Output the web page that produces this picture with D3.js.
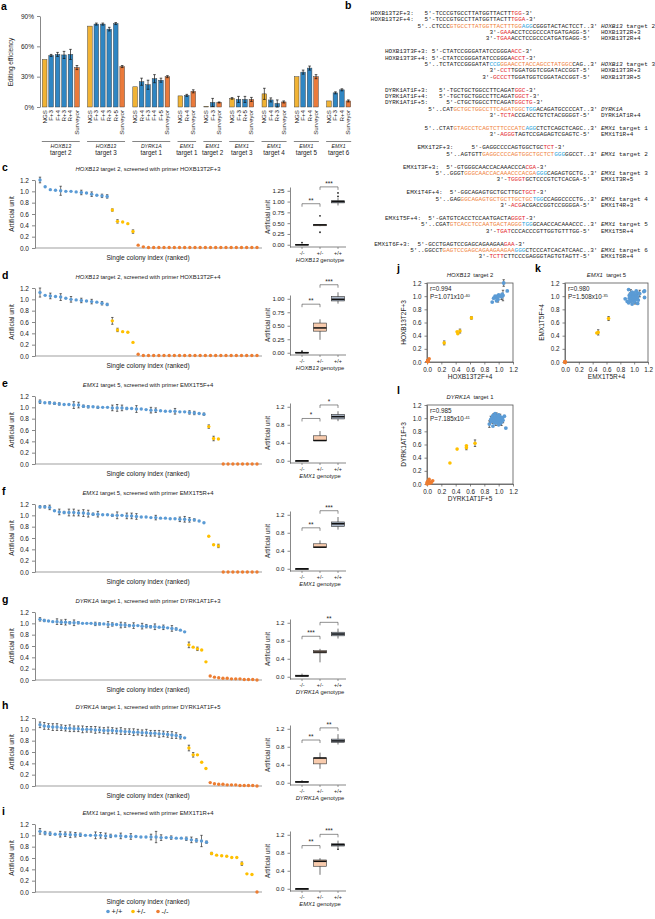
<!DOCTYPE html>
<html><head><meta charset="utf-8">
<script src="https://cdn.jsdelivr.net/npm/d3@7/dist/d3.min.js"></script>
<style>
html,body{margin:0;padding:0;background:#fff;}
svg{display:block;}
text{font-family:"Liberation Sans",Arial,sans-serif;fill:#222;}
.mono{font-family:"Liberation Mono","DejaVu Sans Mono",monospace;}
.letter{font-weight:bold;font-size:10.5px;fill:#000;}
</style></head><body>
<svg id="fig" width="655" height="919"></svg>
<script>
// ================= DATA =================
// ---- panel a ----
const barGroupGenes = ["HOXB13","HOXB13","DYRK1A","EMX1","EMX1","EMX1","EMX1","EMX1","EMX1"];
const barGroupTargets = ["target 2","target 3","target 1","target 1","target 2","target 3","target 4","target 5","target 6"];
const barLabels = [
 ["NGS","F+3","F+4","R+3","R+4","Surveyor"],
 ["NGS","F+3","F+4","R+3","R+5","Surveyor"],
 ["NGS","R+4","F+3","F+4","F+5","Surveyor"],
 ["NGS","R+4","Surveyor"],
 ["NGS","F+3","Surveyor"],
 ["NGS","F+3","R+5","Surveyor"],
 ["NGS","F+4","R+3","Surveyor"],
 ["NGS","F+4","R+4","Surveyor"],
 ["NGS","F+3","R+4","Surveyor"]];
const barValues = [
 [47,51,52,51.5,52,39],
 [80,82,82,77,82.5,40],
 [20,25,22,28,26.5,30],
 [11,11.5,15.5],
 [0.6,4.5,4.5],
 [8.5,7.5,7.5,7.5],
 [13,7,3.5,5],
 [30,34.5,38.5,30],
 [6,14,17,6]];
const barErrors = [
 [0,1,2,3.5,5,2],
 [0,1,1,1.8,1,1],
 [0,3.5,4.5,4,2,1],
 [0,1,1.5],
 [0,4,0.5],
 [0.8,3,3,2],
 [5.5,2,3.5,1],
 [0,2,2,2],
 [0,1,1,1]];
const barTicks = [0,30,60,90];

// ---- panel b (sequence alignments; [r:..]=red primer end, [o:..]=protospacer, [b:..]=PAM) ----
const seqHOXB13T2 = [
 {label:"HOXB13T2F+3:", labelCol:-13, col:2, seq:"5'-TCCCGTGCCTTATGGTTACTT[r:TGG]-3'"},
 {label:"HOXB13T2F+4:", labelCol:-13, col:2, seq:"5'-TCCCGTGCCTTATGGTTACTT[r:TGGA]-3'"},
 {target:true, col:0, seq:"5'..CTCCC[o:GTGCCTTATGGTTACTTTGG][b:AGG]CGGGTACTACTCCT..3'", gene:"HOXB13", right:" target 2"},
 {col:20, seq:"3'-[r:GAA]ACCTCCGCCCATGATGAGG-5'", right:"HOXB13T2R+3"},
 {col:19, seq:"3'-[r:TGAA]ACCTCCGCCCATGATGAGG-5'", right:"HOXB13T2R+4"}];
const seqHOXB13T3 = [
 {label:"HOXB13T3F+3:", labelCol:-11, col:2, seq:"5'-CTATCCGGGATATCCGGGA[r:ACC]-3'"},
 {label:"HOXB13T3F+4:", labelCol:-11, col:2, seq:"5'-CTATCCGGGATATCCGGGA[r:ACCT]-3'"},
 {target:true, col:0, seq:"5'..TCTATCCGGGATAT[b:CCG][o:GGAACCTACCAGCCTATGGC]CAG..3'", gene:"HOXB13", right:" target 3"},
 {col:18, seq:"3'-[r:CCT]TGGATGGTCGGATACCGGT-5'", right:"HOXB13T3R+3"},
 {col:16, seq:"3'-[r:GCCCT]TGGATGGTCGGATACCGGT-5'", right:"HOXB13T3R+5"}];
const seqDYRK1AT1 = [
 {label:"DYRK1AT1F+3:", labelCol:-12, col:3, seq:"5'-TGCTGCTGGCCTTCAGAT[r:GGC]-3'"},
 {label:"DYRK1AT1F+4:", labelCol:-12, col:3, seq:"5'-TGCTGCTGGCCTTCAGAT[r:GGCT]-3'"},
 {label:"DYRK1AT1F+5:", labelCol:-12, col:5, seq:"5'-CTGCTGGCCTTCAGAT[r:GGCTG]-3'"},
 {target:true, col:0, seq:"5'..CAT[o:GCTGCTGGCCTTCAGATGGC][b:TGG]ACAGATGCCCCAT..3'", gene:"DYRK1A", right:""},
 {col:17, seq:"3'-[r:TCTA]CCGACCTGTCTACGGGGT-5'", right:"DYRK1AT1R+4"}];
const seqEMX1T1 = [
 {target:true, col:0, seq:"5'..CTAT[o:GTAGCCTCAGTCTTCCCATC][b:AGG]CTCTCAGCTCAGC..3'", gene:"EMX1", right:" target 1"},
 {col:18, seq:"3'-[r:AGGG]TAGTCCGAGAGTCGAGTC-5'", right:"EMX1T1R+4"}];
const seqEMX1T2 = [
 {label:"EMX1T2F+3:", labelCol:-8, col:7, seq:"5'-GAGGCCCCAGTGGCTGC[r:TCT]-3'"},
 {target:true, col:0, seq:"5'..AGTGTT[o:GAGGCCCCAGTGGCTGCTCT][b:GGG]GGCCT..3'", gene:"EMX1", right:" target 2"}];
const seqEMX1T3 = [
 {label:"EMX1T3F+3:", labelCol:-9, col:3, seq:"5'-GTGGGCAACCACAAACCCA[r:CGA]-3'"},
 {target:true, col:0, seq:"5'..GGGT[o:GGGCAACCACAAACCCACGA][b:GGG]CAGAGTGCTG..3'", gene:"EMX1", right:" target 3"},
 {col:17, seq:"3'-[r:TGGGT]GCTCCCGTCTCACGA-5'", right:"EMX1T3R+5"}];
const seqEMX1T4 = [
 {label:"EMX1T4F+4:", labelCol:-8, col:4, seq:"5'-GGCAGAGTGCTGCTTGC[r:TGCT]-3'"},
 {target:true, col:0, seq:"5'..GAG[o:GGCAGAGTGCTGCTTGCTGC][b:TGG]CCAGGCCCCTG..3'", gene:"EMX1", right:" target 4"},
 {col:18, seq:"3'-[r:ACG]ACGACCGGTCCGGGGA-5'", right:"EMX1T4R+3"}];
const seqEMX1T5 = [
 {label:"EMX1T5F+4:", labelCol:-10, col:2, seq:"5'-GATGTCACCTCCAATGACTA[r:GGGT]-3'"},
 {target:true, col:0, seq:"5'..CGAT[o:GTCACCTCCAATGACTAGGG][b:TGG]GCAACCACAAACCC..3'", gene:"EMX1", right:" target 5"},
 {col:18, seq:"3'-[r:TGAT]CCCACCCGTTGGTGTTTGG-5'", right:"EMX1T5R+4"}];
const seqEMX1T6 = [
 {label:"EMX1T6F+3:", labelCol:-10, col:2, seq:"5'-GCCTGAGTCCGAGCAGAAGAA[r:GAA]-3'"},
 {target:true, col:0, seq:"5'..GGCCT[o:GAGTCCGAGCAGAAGAAGAA][b:GGG]CTCCCATCACATCAAC..3'", gene:"EMX1", right:" target 6"},
 {col:19, seq:"3'-[r:TCTT]CTTCCCGAGGGTAGTGTAGTT-5'", right:"EMX1T6R+4"}];

// ---- panels c-i: ranked single-colony values ----
const c_wt = [1.20,1.08,1.03,1.02,1.01,1.00,1.00,0.99,0.98,0.97,0.95,0.93,0.92,0.91];
const c_wtErr = [0.05,0.01,0.01,0.01,0.08,0.01,0.01,0.01,0.04,0.01,0.04,0.01,0.03,0.03];
const c_het = [0.67,0.47,0.46,0.43,0.29];
const c_hetErr = [0.02,0.03,0.01,0.01,0.03];
const c_ko = [0.05,0.02,0.01,0.01,0.01,0.01,0.01,0.01,0.01,0.01,0.01,0.01,0.01,0.01,0.01,0.01,0.01,0.01,0.01,0.01,0.01,0.01,0.01,0.01];

const d_wt = [1.12,1.07,1.06,1.05,1.04,1.02,1.00,0.99,0.98,0.97,0.96,0.95,0.93,0.91];
const d_wtErr = [0.08,0.01,0.05,0.01,0.06,0.01,0.05,0.01,0.04,0.01,0.04,0.01,0.03,0.02];
const d_het = [0.62,0.46,0.43,0.42,0.24];
const d_hetErr = [0.06,0.03,0.01,0.01,0.01];
const d_ko = [0.03,0.01,0.01,0.01,0.01,0.01,0.01,0.01,0.01,0.01,0.01,0.01,0.01,0.01,0.01,0.01,0.01,0.01,0.01,0.01,0.01,0.01,0.01,0.01];

const e_wt = [1.10,1.08,1.08,1.07,1.06,1.05,1.05,1.04,1.04,1.02,1.01,1.01,1.00,1.00,1.00,0.99,0.99,0.99,0.98,0.98,0.97,0.97,0.96,0.95,0.95,0.94,0.93,0.93,0.93,0.92,0.92,0.91,0.90,0.89,0.88];
const e_wtErr = [0.03,0.01,0.02,0.02,0.02,0.01,0.01,0.06,0.05,0.02,0.02,0.01,0.02,0.01,0.01,0.05,0.06,0.05,0.02,0.01,0.06,0.01,0.01,0.05,0.04,0.01,0.01,0.01,0.05,0.01,0.01,0.03,0.03,0.01,0.02];
const e_het = [0.66,0.45,0.44];
const e_hetErr = [0.03,0.04,0.01];
const e_ko = [0,0,0,0,0,0,0,0];

const f_wt = [1.15,1.15,1.14,1.08,1.06,1.05,1.05,1.05,1.04,1.04,1.03,1.02,1.02,1.01,1.01,1.00,1.00,1.00,0.99,0.99,0.98,0.97,0.97,0.96,0.96,0.95,0.95,0.94,0.94,0.93,0.93,0.92,0.92,0.90,0.87];
const f_wtErr = [0.02,0.02,0.04,0.01,0.05,0.02,0.06,0.06,0.05,0.06,0.06,0.02,0.05,0.01,0.01,0.02,0.06,0.01,0.05,0.05,0.05,0.01,0.01,0.01,0.04,0.01,0.01,0.01,0.01,0.04,0.05,0.04,0.02,0.01,0.01];
const f_het = [0.63,0.48,0.46];
const f_hetErr = [0.01,0.01,0.03];
const f_ko = [0,0,0,0,0,0,0,0];

const g_wt = [1.07,1.05,1.04,1.03,1.03,1.02,1.02,1.01,1.01,1.01,1.00,1.00,1.00,0.99,0.99,0.99,0.98,0.98,0.98,0.97,0.97,0.96,0.96,0.96,0.95,0.95,0.94,0.94,0.93,0.93,0.92,0.91,0.90,0.88,0.85];
const g_wtErr = [0.03,0.02,0.01,0.01,0.05,0.04,0.05,0.02,0.05,0.02,0.01,0.01,0.01,0.03,0.02,0.01,0.05,0.03,0.01,0.05,0.04,0.02,0.05,0.01,0.05,0.03,0.02,0.05,0.01,0.04,0.01,0.05,0.02,0.01,0.01];
const g_het = [0.62,0.58,0.55,0.53,0.32];
const g_hetErr = [0.05,0.01,0.03,0.01,0.01];
const g_ko = [0.07,0.05,0.04,0.03,0.03,0.02,0.02,0.02,0.01,0.01,0.01,0.00];

const h_wt = [1.08,1.06,1.05,1.04,1.04,1.03,1.02,1.02,1.01,1.01,1.00,1.00,1.00,0.99,0.99,0.98,0.98,0.98,0.97,0.97,0.96,0.96,0.95,0.95,0.94,0.94,0.93,0.93,0.92,0.92,0.91,0.90,0.89,0.87,0.85];
const h_wtErr = [0.05,0.06,0.05,0.06,0.06,0.05,0.05,0.06,0.05,0.05,0.06,0.05,0.05,0.06,0.05,0.05,0.06,0.05,0.05,0.06,0.05,0.05,0.06,0.05,0.05,0.06,0.05,0.05,0.06,0.05,0.05,0.06,0.05,0.04,0.01];
const h_het = [0.67,0.55,0.55,0.42,0.31];
const h_hetErr = [0.05,0.04,0.01,0.01,0.01];
const h_ko = [0.06,0.04,0.03,0.03,0.02,0.02,0.02,0.01,0.01,0.01,0.01,0.00];

const i_wt = [1.07,1.04,1.03,1.02,1.02,1.02,1.01,1.01,1.01,1.00,1.00,1.00,1.00,0.99,0.99,0.99,0.99,0.98,0.98,0.98,0.97,0.97,0.97,0.97,0.96,0.96,0.96,0.95,0.95,0.94,0.92,0.91,0.90,0.88];
const i_wtErr = [0.05,0.03,0.03,0.01,0.05,0.04,0.05,0.04,0.03,0.01,0.01,0.06,0.05,0.05,0.03,0.01,0.05,0.01,0.05,0.01,0.01,0.01,0.05,0.10,0.05,0.01,0.03,0.01,0.01,0.03,0.05,0.03,0.10,0.02];
const i_het = [0.68,0.65,0.64,0.63,0.61,0.61,0.50,0.32,0.31];
const i_hetErr = [0.02,0.01,0.01,0.01,0.01,0.01,0.03,0.01,0.01];
const i_ko = [0.00];

const rowLetters = ["c","d","e","f","g","h","i"];
const rowGenes = ["HOXB13","HOXB13","EMX1","EMX1","DYRK1A","DYRK1A","EMX1"];
const rowTargets = ["target 2","target 2","target 5","target 5","target 1","target 1","target 1"];
const rowPrimers = ["HOXB13T2F+3","HOXB13T2F+4","EMX1T5F+4","EMX1T5R+4","DYRK1AT1F+3","DYRK1AT1F+5","EMX1T1R+4"];
const rowSig = [["**","***"],["**","***"],["*","*"],["**","***"],["***","**"],["**","**"],["**","***"]];
const boxTickSets = [[0,0.25,0.5,0.75,1,1.25],[0,0.25,0.5,0.75,1],[0,0.4,0.8,1.2],[0,0.4,0.8,1.2],[0,0.4,0.8,1.2],[0,0.4,0.8,1.2],[0,0.4,0.8,1.2]];
// box summaries [min, q1, median, q3, max] for -/-, +/-, +/+
const boxKO = [[0,0,0,0.01,0.02],[0,0,0,0.01,0.01],[0,0,0,0,0],[0,0,0,0,0],[0,0.01,0.02,0.035,0.07],[0,0.01,0.02,0.03,0.06],[0,0,0,0,0]];
const boxHet = [[0.43,0.44,0.46,0.47,0.47],[0.24,0.40,0.46,0.55,0.62],[0.44,0.445,0.45,0.555,0.66],[0.46,0.47,0.48,0.555,0.63],[0.32,0.53,0.55,0.58,0.62],[0.31,0.42,0.55,0.55,0.67],[0.31,0.50,0.61,0.64,0.68]];
const boxWT = [[0.91,0.97,1.00,1.02,1.08],[0.91,0.96,0.99,1.04,1.12],[0.88,0.93,0.98,1.03,1.10],[0.87,0.94,1.00,1.04,1.15],[0.85,0.91,0.95,0.99,1.07],[0.85,0.90,0.93,0.97,1.08],[0.90,0.95,0.98,1.00,1.07]];
const boxOutKO = [[0.05],[0.03],[],[],[],[],[]];
const boxOutHet = [[0.67,0.29],[],[],[],[],[],[]];
const boxOutWT = [[1.20,1.12],[],[],[],[],[],[0.88]];

// ---- panels j, k, l: primer pair correlation ----
const jx_wt = [1.12,1.07,1.06,1.05,1.04,1.02,1.00,0.99,0.98,0.97,0.96,0.95,0.93,0.91];
const jy_wt = [1.08,1.20,1.01,1.03,0.99,1.00,1.02,0.95,1.00,0.93,0.98,1.00,0.97,0.91];
const jy_wtErr = [0.01,0.05,0.08,0.01,0.04,0.01,0.01,0.04,0.01,0.03,0.01,0.01,0.03,0.03];
const jx_het = [0.62,0.46,0.43,0.42,0.24];
const jy_het = [0.67,0.47,0.43,0.46,0.29];
const jy_hetErr = [0.02,0.03,0.01,0.01,0.03];

const kx_wt = [0.92,1.15,1.03,1.14,0.97,1.05,1.00,0.95,1.08,0.99,1.02,0.93,1.04,0.96,1.01,1.05,0.94,1.00,1.15,0.98,0.93,1.04,0.87,1.02,0.96,1.06,0.95,0.99,1.01,0.90,0.94,1.00,0.92,1.05,0.97];
const kx_het = [0.63,0.48,0.46];

const lx_wt = [0.95,1.00,0.92,1.08,0.97,1.02,0.93,1.04,0.99,0.91,1.01,0.96,1.05,0.94,0.98,1.00,0.89,1.03,0.95,0.92,1.06,0.97,0.99,0.93,1.01,0.90,0.98,1.04,0.94,0.96,1.02,0.87,1.00,0.92,1.10];
const lx_het = [0.67,0.55,0.55,0.42,0.32];
const lx_ko = [0.03,0.08,0.01,0.05,0.02,0.06,0.00,0.04,0.02,0.01,0.03,0.00];

const corrR = ["0.994","0.980","0.985"];
const corrP = ["1.071","1.508","7.185"];
const corrExp = ["-40","-35","-41"];
const corrTicks = [0,0.2,0.4,0.6,0.8,1.0,1.2];
const genotypes = ["-/-","+/-","+/+"];

// ================= DRAWING =================
const BLUE="#5B9BD5", YELLOW="#FFC000", ORANGE="#ED7D31";
const BAR_NGS="#F1B335", BAR_BLUE="#2F86C3", BAR_SURV="#EA7A3B";
const svg = d3.select("#fig");
svg.append("rect").attr("width",655).attr("height",919).attr("fill","#fff");

function styleAxis(sel, fs){
  sel.attr("font-family",null).attr("font-size",null);
  sel.selectAll("text").style("font-size",fs+"px").attr("fill","#222");
  sel.selectAll("path.domain").attr("stroke","#555").attr("stroke-width",0.7);
  sel.selectAll(".tick line").attr("stroke","#555").attr("stroke-width",0.7);
}
function errBar(g, x, y1, y2, cap, sw){
  g.append("line").attr("x1",x).attr("x2",x).attr("y1",y1).attr("y2",y2).attr("stroke","#111").attr("stroke-width",sw||0.6);
  g.append("line").attr("x1",x-cap).attr("x2",x+cap).attr("y1",y1).attr("y2",y1).attr("stroke","#111").attr("stroke-width",sw||0.6);
  g.append("line").attr("x1",x-cap).attr("x2",x+cap).attr("y1",y2).attr("y2",y2).attr("stroke","#111").attr("stroke-width",sw||0.6);
}

// ---------- panel a ----------
(function(){
  const g = svg.append("g");
  g.append("text").attr("class","letter").attr("x",1).attr("y",10).text("a");
  const slots=[]; let s=0;
  barLabels.forEach((labs,gi)=>{ if(gi>0) s++; labs.forEach((lab,bi)=>{ slots.push({gi,bi,lab,v:barValues[gi][bi],e:barErrors[gi][bi],slot:s}); s++; }); });
  const x = d3.scaleBand().domain(d3.range(s)).range([42,351]).paddingInner(0.28).paddingOuter(0.05);
  const y = d3.scaleLinear().domain([0,90]).range([107,16]);
  g.append("g").attr("transform","translate(40,0)")
    .call(d3.axisLeft(y).tickValues(barTicks).tickFormat(d=>d+"%").tickSize(3).tickSizeOuter(0))
    .call(styleAxis,6.5);
  g.append("text").attr("transform","translate(13,62) rotate(-90)").attr("text-anchor","middle").style("font-size","6.5px").text("Editing efficiency");
  const bw = x.bandwidth();
  slots.forEach(d=>{
    const col = d.lab==="NGS"?BAR_NGS:(d.lab==="Surveyor"?BAR_SURV:BAR_BLUE);
    g.append("rect").attr("x",x(d.slot)).attr("width",bw).attr("y",y(d.v)).attr("height",y(0)-y(d.v))
      .attr("fill",col).attr("stroke","#3a3a3a").attr("stroke-width",0.45);
    if(d.e>0) errBar(g, x(d.slot)+bw/2, y(d.v-d.e), y(d.v+d.e), 1.3, 0.7);
    g.append("text").attr("transform",`translate(${x(d.slot)+bw/2+2},110) rotate(-90)`)
      .attr("text-anchor","end").style("font-size","6.2px").text(d.lab);
  });
  barGroupGenes.forEach((gene,gi)=>{
    const ss = slots.filter(d=>d.gi===gi);
    const x1 = x(ss[0].slot)-0.5, x2 = x(ss[ss.length-1].slot)+bw+0.5, cx=(x1+x2)/2;
    g.append("line").attr("x1",x1).attr("x2",x2).attr("y1",141.5).attr("y2",141.5).attr("stroke","#333").attr("stroke-width",0.6);
    g.append("text").attr("x",cx).attr("y",147.5).attr("text-anchor","middle").style("font-size","5.2px").style("font-style","italic").text(gene);
    g.append("text").attr("x",cx).attr("y",155).attr("text-anchor","middle").style("font-size","6.3px").text(barGroupTargets[gi]);
  });
})();

// ---------- panel b ----------
(function(){
  const g = svg.append("g");
  g.append("text").attr("class","letter").attr("x",345).attr("y",9).text("b");
  const blocks=[seqHOXB13T2,seqHOXB13T3,seqDYRK1AT1,seqEMX1T1,seqEMX1T2,seqEMX1T3,seqEMX1T4,seqEMX1T5,seqEMX1T6];
  const CW=3.6, FS="6px", LH=6.35, BG=6.6, RX=601;
  const colors={k:"#222",r:"#E3262B",o:"#F07F3A",b:"#27A3DB"};
  const plain = s=>s.replace(/\[[korb]:/g,"").replace(/\]/g,"");
  let yy=15;
  blocks.forEach(block=>{
    const tl = block.find(l=>l.target);
    const tx = RX - (plain(tl.seq).length+1)*CW;
    block.forEach(l=>{
      if(l.label) g.append("text").attr("class","mono").attr("x",tx+l.labelCol*CW).attr("y",yy).style("font-size",FS).text(l.label);
      const t = g.append("text").attr("class","mono").attr("x",tx+l.col*CW).attr("y",yy).style("font-size",FS).attr("xml:space","preserve");
      const re=/\[([korb]):([^\]]*)\]/g; let last=0, m;
      while((m=re.exec(l.seq))!==null){
        if(m.index>last) t.append("tspan").attr("fill",colors.k).text(l.seq.slice(last,m.index));
        t.append("tspan").attr("fill",colors[m[1]]).text(m[2]);
        last=re.lastIndex;
      }
      if(last<l.seq.length) t.append("tspan").attr("fill",colors.k).text(l.seq.slice(last));
      if(l.target){
        const r = g.append("text").attr("class","mono").attr("x",RX).attr("y",yy).style("font-size",FS).attr("xml:space","preserve");
        r.append("tspan").style("font-style","italic").text(l.gene);
        r.append("tspan").text(l.right);
      } else if(l.right){
        g.append("text").attr("class","mono").attr("x",RX).attr("y",yy).style("font-size",FS).text(l.right);
      }
      yy+=LH;
    });
    yy+=BG;
  });
})();

// ---------- panels c-i ----------
const rowWT=[c_wt,d_wt,e_wt,f_wt,g_wt,h_wt,i_wt];
const rowWTErr=[c_wtErr,d_wtErr,e_wtErr,f_wtErr,g_wtErr,h_wtErr,i_wtErr];
const rowHet=[c_het,d_het,e_het,f_het,g_het,h_het,i_het];
const rowHetErr=[c_hetErr,d_hetErr,e_hetErr,f_hetErr,g_hetErr,h_hetErr,i_hetErr];
const rowKO=[c_ko,d_ko,e_ko,f_ko,g_ko,h_ko,i_ko];
const rowTop=[163,271,379,487,595,701,807];

rowLetters.forEach((letter,ri)=>{
  const y0=rowTop[ri];
  const g = svg.append("g");
  g.append("text").attr("class","letter").attr("x",2).attr("y",y0+8).text(letter);
  const t = g.append("text").attr("x",148).attr("y",y0+8).attr("text-anchor","middle").style("font-size","5.9px").attr("xml:space","preserve");
  t.append("tspan").style("font-style","italic").text(rowGenes[ri]);
  t.append("tspan").text(" "+rowTargets[ri]+", screened with primer "+rowPrimers[ri]);
  const pts=[];
  rowWT[ri].forEach((v,k)=>pts.push({v,e:rowWTErr[ri][k],c:BLUE}));
  rowHet[ri].forEach((v,k)=>pts.push({v,e:rowHetErr[ri][k],c:YELLOW}));
  rowKO[ri].forEach(v=>pts.push({v,e:0,c:ORANGE}));
  const x = d3.scalePoint().domain(d3.range(pts.length)).range([40,257]);
  const y = d3.scaleLinear().domain([0,1.2]).range([y0+85,y0+17]);
  g.append("g").attr("transform","translate(35,0)")
    .call(d3.axisLeft(y).tickValues([0,0.2,0.4,0.6,0.8,1.0,1.2]).tickFormat(d3.format(".1f")).tickSize(3).tickSizeOuter(0))
    .call(styleAxis,6.5);
  g.append("line").attr("x1",35).attr("x2",262).attr("y1",y(0)).attr("y2",y(0)).attr("stroke","#777").attr("stroke-width",0.7);
  g.append("text").attr("transform",`translate(14,${y0+51}) rotate(-90)`).attr("text-anchor","middle").style("font-size","6.6px").text("Artificial unit");
  g.append("text").attr("x",148).attr("y",y0+97).attr("text-anchor","middle").style("font-size","6.6px").text("Single colony index (ranked)");
  pts.forEach((p,k)=>{ if(p.e>0.015) errBar(g,x(k),y(p.v-p.e),y(p.v+p.e),1.2,0.6); });
  pts.forEach((p,k)=>{ g.append("circle").attr("cx",x(k)).attr("cy",y(p.v)).attr("r",1.7).attr("fill",p.c); });

  // box plot
  const ticks=boxTickSets[ri];
  const tmax=ticks[ticks.length-1];
  const bx = d3.scalePoint().domain(genotypes).range([302,338]);
  const by = d3.scaleLinear().domain([-0.05*tmax/1.2, tmax*1.07]).range([y0+84,y0+24]);
  g.append("g").attr("transform","translate(290,0)")
    .call(d3.axisLeft(by).tickValues(ticks).tickFormat(d3.format(tmax===1.2?".1f":".2f")).tickSize(2.5).tickSizeOuter(0))
    .call(styleAxis,6.2);
  g.append("line").attr("x1",290).attr("x2",346).attr("y1",y0+84).attr("y2",y0+84).attr("stroke","#555").attr("stroke-width",0.7);
  genotypes.forEach(gt=>{
    g.append("line").attr("x1",bx(gt)).attr("x2",bx(gt)).attr("y1",y0+84).attr("y2",y0+86).attr("stroke","#555").attr("stroke-width",0.6);
    g.append("text").attr("x",bx(gt)).attr("y",y0+91.5).attr("text-anchor","middle").style("font-size","5.4px").text(gt);
  });
  const gl = g.append("text").attr("x",320).attr("y",y0+99).attr("text-anchor","middle").style("font-size","5.8px").attr("xml:space","preserve");
  gl.append("tspan").style("font-style","italic").text(rowGenes[ri]);
  gl.append("tspan").text(" genotype");
  g.append("text").attr("transform",`translate(270,${y0+54}) rotate(-90)`).attr("text-anchor","middle").style("font-size","6.3px").text("Artificial unit");
  const stats=[boxKO[ri],boxHet[ri],boxWT[ri]];
  const outs=[boxOutKO[ri],boxOutHet[ri],boxOutWT[ri]];
  const fills=["#444","#F8CBAD","#ADB9CA"];
  const BW=13;
  genotypes.forEach((gt,k)=>{
    const st=stats[k], cx=bx(gt);
    g.append("line").attr("x1",cx).attr("x2",cx).attr("y1",by(st[0])).attr("y2",by(st[4])).attr("stroke","#333").attr("stroke-width",0.7);
    const h=Math.max(by(st[1])-by(st[3]),0.8);
    g.append("rect").attr("x",cx-BW/2).attr("width",BW).attr("y",by(st[3])).attr("height",h)
      .attr("fill",fills[k]).attr("stroke","#333").attr("stroke-width",0.6);
    g.append("line").attr("x1",cx-BW/2).attr("x2",cx+BW/2).attr("y1",by(st[2])).attr("y2",by(st[2])).attr("stroke","#111").attr("stroke-width",1.5);
    outs[k].forEach(o=>g.append("circle").attr("cx",cx).attr("cy",by(o)).attr("r",0.9).attr("fill","#222"));
  });
  const b1 = Math.max(boxHet[ri][4], ...boxOutHet[ri])+0.28;
  const b2 = Math.max(boxWT[ri][4], ...boxOutWT[ri])+0.14;
  [[0,1,b1,rowSig[ri][0]],[1,2,b2,rowSig[ri][1]]].forEach(([a,b,v,lab])=>{
    const xa=bx(genotypes[a]), xb=bx(genotypes[b]), yy=by(v);
    g.append("path").attr("d",`M${xa},${yy+3}V${yy}H${xb}V${yy+3}`).attr("fill","none").attr("stroke","#444").attr("stroke-width",0.6);
    g.append("text").attr("x",(xa+xb)/2).attr("y",yy-1.2).attr("text-anchor","middle").style("font-size","6.5px").text(lab);
  });
});

// legend
(function(){
  const g = svg.append("g");
  const items=[["+/+",BLUE],["+/-",YELLOW],["-/-",ORANGE]];
  items.forEach((it,k)=>{
    const x0=108+k*25;
    g.append("circle").attr("cx",x0).attr("cy",911.5).attr("r",1.8).attr("fill",it[1]);
    g.append("text").attr("x",x0+3.5).attr("y",914).style("font-size","7.5px").text(it[0]);
  });
})();

// ---------- panels j, k, l ----------
const corrLetters=["j","k","l"];
const corrGenes=["HOXB13","EMX1","DYRK1A"];
const corrTargets=["target 2","target 5","target 1"];
const corrXLab=["HOXB13T2F+4","EMX1T5R+4","DYRK1AT1F+5"];
const corrYLab=["HOXB13T2F+3","EMX1T5F+4","DYRK1AT1F+3"];
const corrWTx=[jx_wt,kx_wt,lx_wt], corrWTy=[jy_wt,e_wt,g_wt], corrWTyErr=[jy_wtErr,e_wtErr,g_wtErr];
const corrHx=[jx_het,kx_het,lx_het], corrHy=[jy_het,e_het,g_het], corrHyErr=[jy_hetErr,e_hetErr,g_hetErr];
const corrKx=[d_ko,f_ko,lx_ko], corrKy=[c_ko,e_ko,g_ko];
const corrBox=[[427,513,283,362],[565,648,283,362],[427,513,405,484]];
corrLetters.forEach((L,ci)=>{
  const [x0,x1,yT,yB]=corrBox[ci];
  const g=svg.append("g");
  g.append("text").attr("class","letter").attr("x",x0-30).attr("y",yT-11).text(L);
  const tt=g.append("text").attr("x",(x0+x1)/2).attr("y",yT-6).attr("text-anchor","middle").style("font-size","5.9px").attr("xml:space","preserve");
  tt.append("tspan").style("font-style","italic").text(corrGenes[ci]);
  tt.append("tspan").text("  "+corrTargets[ci]);
  const x=d3.scaleLinear().domain([0,1.2]).range([x0,x1]);
  const y=d3.scaleLinear().domain([0,1.2]).range([yB,yT]);
  g.append("g").attr("transform",`translate(0,${yB})`).call(d3.axisBottom(x).tickValues(corrTicks).tickFormat(d3.format(".1f")).tickSize(2.5).tickSizeOuter(0)).call(styleAxis,6.3);
  g.append("g").attr("transform",`translate(${x0},0)`).call(d3.axisLeft(y).tickValues(corrTicks).tickFormat(d3.format(".1f")).tickSize(2.5).tickSizeOuter(0)).call(styleAxis,6.3);
  g.append("rect").attr("x",x0).attr("y",yT).attr("width",x1-x0).attr("height",yB-yT).attr("fill","none").attr("stroke","#555").attr("stroke-width",0.8);
  g.append("text").attr("x",(x0+x1)/2).attr("y",yB+17).attr("text-anchor","middle").style("font-size","6.5px").text(corrXLab[ci]);
  g.append("text").attr("transform",`translate(${x0-21},${(yT+yB)/2}) rotate(-90)`).attr("text-anchor","middle").style("font-size","6.5px").text(corrYLab[ci]);
  corrKx[ci].forEach((vx,k)=>g.append("circle").attr("cx",x(vx)).attr("cy",y(corrKy[ci][k])).attr("r",1.8).attr("fill",ORANGE));
  corrHx[ci].forEach((vx,k)=>{ const vy=corrHy[ci][k], e=corrHyErr[ci][k]; if(e>0.015) errBar(g,x(vx),y(vy-e),y(vy+e),1.2,0.6); });
  corrHx[ci].forEach((vx,k)=>g.append("circle").attr("cx",x(vx)).attr("cy",y(corrHy[ci][k])).attr("r",1.8).attr("fill",YELLOW));
  corrWTx[ci].forEach((vx,k)=>{ const vy=corrWTy[ci][k], e=corrWTyErr[ci][k]; if(e>0.03) errBar(g,x(vx),y(vy-e),y(vy+e),1.2,0.6); });
  corrWTx[ci].forEach((vx,k)=>g.append("circle").attr("cx",x(vx)).attr("cy",y(corrWTy[ci][k])).attr("r",1.9).attr("fill",BLUE));
  g.append("text").attr("x",x0+3).attr("y",yT+8).style("font-size","6.3px").text("r="+corrR[ci]);
  const pt=g.append("text").attr("x",x0+3).attr("y",yT+16).style("font-size","6.3px");
  pt.append("tspan").text("P="+corrP[ci]+"x10");
  pt.append("tspan").attr("dy",-2.5).style("font-size","4.3px").text(corrExp[ci]);
});
</script>
</body></html>
